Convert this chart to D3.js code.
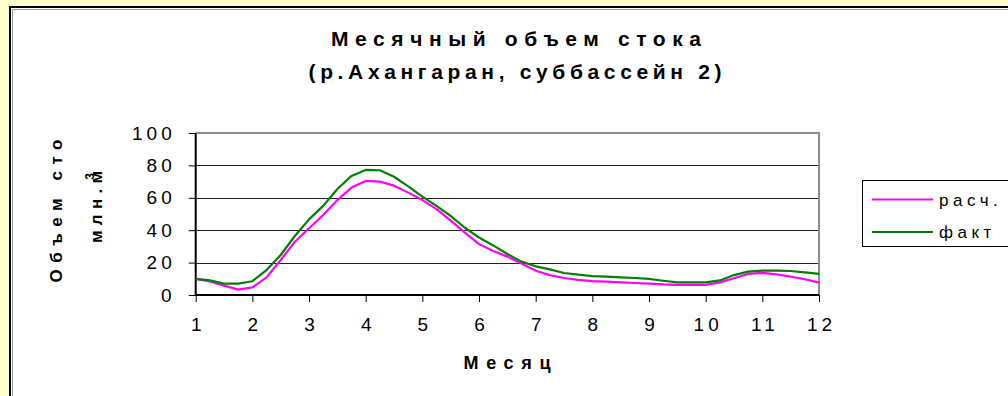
<!DOCTYPE html>
<html><head><meta charset="utf-8">
<script src="https://cdn.jsdelivr.net/npm/d3@7"></script>
<style>
html,body{margin:0;padding:0;background:#FFFFCC;}
text{font-family:"Liberation Sans",Arial,sans-serif;}
</style></head>
<body><svg id="c" width="1008" height="396"></svg>
<script>
const months = [1,2,3,4,5,6,7,8,9,10,11,12];
const t = [1,1.25,1.5,1.75,2,2.25,2.5,2.75,3,3.25,3.5,3.75,4,4.25,4.5,4.75,5,5.25,5.5,5.75,6,6.25,6.5,6.75,7,7.25,7.5,7.75,8,8.25,8.5,8.75,9,9.25,9.5,9.75,10,10.25,10.5,10.75,11,11.25,11.5,11.75,12];
const calc = [10,8.4,5.8,3.3,4.7, 10.9,21.6,32.9,41.2, 49.4,58.6,66.3,70.4, 70,67.5,63.2,58.6, 53,45.9,38.5,31.4, 27.2,23.7,19.5,15, 12.3,10.5,9.3,8.6, 8.2,7.8,7.4,7, 6.5,6.2,6.2,6.2, 7.8,10.3,13,13.6, 12.7,11.3,9.7,7.6];
const fact = [10,9,7,7,8.5, 15.4,24.7,36.4,46.7, 55,65.4,73.5,77.2, 77,73,67,60.7, 55,48.8,41.5,35.5, 30.6,25.3,20.6,17.7, 15.8,13.6,12.6,11.7, 11.3,10.9,10.5,9.9, 8.8,7.8,7.8,7.8, 9,12.3,14.4,15, 15,14.8,14,13];
const yTicks = [0,20,40,60,80,100];
const seriesNames = ["расч.","факт"];
const colors = ["#FF00FF","#008000"];

const svg = d3.select("#c");
// panel
svg.append("rect").attr("x",10).attr("y",7).attr("width",1010).attr("height",400)
  .attr("fill","#fff").attr("stroke","#000").attr("stroke-width",2);
svg.append("path").attr("d","M12.5,1000V9.5H1010").attr("fill","none").attr("stroke","#999").attr("stroke-width",1);

const x = d3.scaleLinear().domain([1,12]).range([195.7,819]);
const y = d3.scaleLinear().domain([0,100]).range([295,133]);

// gridlines
svg.append("g").selectAll("line").data(yTicks.filter(v=>v>0 && v<100)).join("line")
  .attr("x1",x(1)).attr("x2",x(12)).attr("y1",d=>Math.round(y(d))+0.5).attr("y2",d=>Math.round(y(d))+0.5)
  .attr("stroke","#222").attr("stroke-width",1);
// frame top & right (gray)
svg.append("path").attr("d",`M${x(1)},${y(100)}H${x(12)}V${y(0)}`).attr("fill","none").attr("stroke","#8c8c8c").attr("stroke-width",2);

// axes
const yAxis = d3.axisLeft(y).tickValues(yTicks).tickSize(7).tickPadding(13);
const gy = svg.append("g").attr("transform",`translate(${x(1)},0)`).call(yAxis);
gy.select(".domain").attr("stroke","#000").attr("stroke-width",2).attr("d",`M0,${y(100)}V${y(0)}`);
gy.selectAll(".tick line").attr("stroke","#000");
gy.selectAll(".tick text").attr("font-size",19).attr("fill","#000").attr("font-family","Liberation Sans, Arial").style("letter-spacing","4px");

const xAxis = d3.axisBottom(x).tickValues(months).tickFormat(d3.format("d")).tickSize(7).tickPadding(16);
const gx = svg.append("g").attr("transform",`translate(0,${y(0)})`).call(xAxis);
gx.select(".domain").attr("stroke","#000").attr("stroke-width",2).attr("d",`M${x(1)},0H${x(12)}`);
gx.selectAll(".tick line").attr("stroke","#000");
gx.selectAll(".tick text").attr("font-size",19).attr("fill","#000").attr("font-family","Liberation Sans, Arial")
  .style("letter-spacing","4px").attr("dx","2px");

// lines
const line = d3.line().x((d,i)=>x(t[i])).y(d=>y(d));
[calc,fact].forEach((s,k)=>{
  svg.append("path").datum(s).attr("d",line).attr("fill","none")
    .attr("stroke",colors[k]).attr("stroke-width",2.2).attr("stroke-linejoin","round");
});

// titles
svg.append("text").attr("x",516).attr("y",46).attr("text-anchor","middle").attr("font-weight","bold")
  .attr("font-size",21).attr("textLength",370).attr("lengthAdjust","spacing").text("Месячный объем стока");
svg.append("text").attr("x",515).attr("y",79).attr("text-anchor","middle").attr("font-weight","bold")
  .attr("font-size",21).attr("textLength",413).attr("lengthAdjust","spacing").text("(р.Ахангаран, суббассейн 2)");

svg.append("text").attr("x",507).attr("y",369).attr("text-anchor","middle").attr("font-weight","bold")
  .attr("font-size",18).attr("textLength",87).attr("lengthAdjust","spacing").text("Месяц");

svg.append("text").attr("transform","translate(62,211) rotate(-90)").attr("text-anchor","middle")
  .attr("font-weight","bold").attr("font-size",17).attr("textLength",143).attr("lengthAdjust","spacing").text("Объем сто");
const yt2 = svg.append("text").attr("transform","translate(102,207) rotate(-90)").attr("text-anchor","middle")
  .attr("font-weight","bold").attr("font-size",17);
yt2.append("tspan").attr("textLength",72).attr("lengthAdjust","spacing").text("млн.м");
yt2.append("tspan").attr("dx",-14).attr("dy",-8).attr("font-size",12).text("3");

// legend
const lg = svg.append("g");
lg.append("rect").attr("x",862.5).attr("y",180.5).attr("width",160).attr("height",66)
  .attr("fill","#fff").attr("stroke","#000").attr("stroke-width",1);
seriesNames.forEach((n,i)=>{
  const yy = 199.5 + i*32.5;
  lg.append("line").attr("x1",872).attr("x2",933).attr("y1",yy).attr("y2",yy).attr("stroke",colors[i]).attr("stroke-width",2.2);
  lg.append("text").attr("x",939).attr("y",yy+6).attr("font-size",17).style("letter-spacing","4.5px").text(n);
});
</script></body></html>
